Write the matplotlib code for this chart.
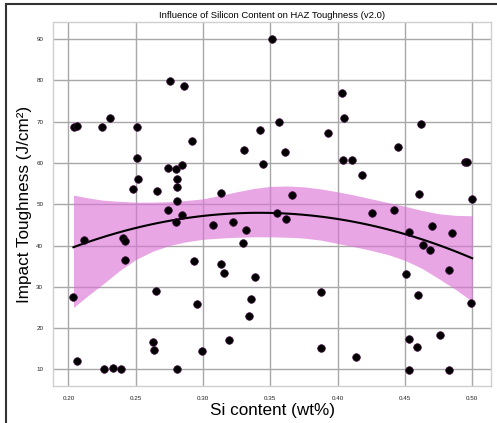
import numpy as np
import matplotlib
matplotlib.use("Agg")
import matplotlib.pyplot as plt
from matplotlib.patches import Rectangle

plt.rcParams['font.family'] = ['Liberation Sans', 'DejaVu Sans']

# scatter
si = [0.2042, 0.2067, 0.2248, 0.2305, 0.2508, 0.2508, 0.2515, 0.2476, 0.2656, 0.3516,
      0.2756, 0.2855, 0.3424, 0.2919, 0.3306, 0.3447, 0.2736, 0.2797, 0.2842, 0.2805,
      0.2805, 0.3132, 0.2805, 0.4029, 0.4046, 0.3566, 0.3927, 0.3610, 0.4038, 0.4110,
      0.4180, 0.3659, 0.4618, 0.4447, 0.4943, 0.4960, 0.4608, 0.5000, 0.2119, 0.2409,
      0.2418, 0.2418, 0.2037, 0.2649, 0.2627, 0.2637, 0.2067, 0.2265, 0.2334, 0.2389,
      0.2736, 0.2842, 0.2797, 0.3077, 0.3226, 0.3321, 0.3295, 0.2936, 0.3132, 0.3157,
      0.3387, 0.3358, 0.3343, 0.2954, 0.3192, 0.2991, 0.2805, 0.3553, 0.3618, 0.4254,
      0.3880, 0.3880, 0.4138, 0.4420, 0.4703, 0.4529, 0.4851, 0.4633, 0.4690, 0.4829,
      0.4509, 0.4596, 0.4990, 0.4759, 0.4527, 0.4591, 0.4529, 0.4829]
tough = [68.8, 69.0, 68.6, 70.8, 68.6, 61.2, 56.1, 53.6, 53.2, 90.0,
         79.7, 78.7, 68.0, 65.2, 63.2, 59.7, 58.8, 58.5, 59.6, 56.1,
         54.1, 52.7, 50.7, 76.8, 70.8, 69.9, 67.2, 62.6, 60.6, 60.8,
         57.1, 52.3, 69.5, 63.9, 60.1, 60.1, 52.5, 51.3, 41.4, 41.8,
         41.1, 36.4, 27.5, 29.1, 16.6, 14.8, 12.1, 10.0, 10.4, 10.0,
         48.5, 47.4, 45.8, 45.0, 45.8, 43.8, 40.6, 36.3, 35.6, 33.3,
         32.3, 27.1, 23.0, 25.9, 17.2, 14.4, 10.0, 47.8, 46.4, 47.8,
         28.7, 15.1, 13.1, 48.6, 44.7, 43.2, 43.1, 40.2, 38.8, 34.1,
         33.1, 28.1, 26.2, 18.3, 17.3, 15.4, 9.9, 9.9]

# confidence band edges
band_x = [0.2037, 0.215, 0.225, 0.2375, 0.25, 0.2625, 0.275, 0.2875, 0.30, 0.3125, 0.325,
          0.3375, 0.35, 0.3625, 0.375, 0.3875, 0.40, 0.4125, 0.425, 0.4375, 0.45,
          0.4625, 0.475, 0.4875, 0.50]
band_hi = [52.2, 51.5, 51.0, 50.7, 50.5, 50.5, 50.6, 50.9, 51.3, 52.1, 53.0,
           53.8, 54.3, 54.4, 54.2, 53.7, 53.0, 52.2, 51.3, 50.4, 49.5,
           48.5, 47.7, 47.3, 47.2]
band_lo = [25.0, 28.0, 30.5, 33.8, 36.6, 38.6, 40.0, 40.9, 41.5, 41.8, 42.0,
           42.1, 42.1, 42.0, 41.8, 41.3, 40.5, 39.7, 38.8, 37.8, 36.4,
           34.5, 32.0, 29.4, 26.5]

coef = np.polyfit(si, tough, 2)
xfit = np.linspace(min(si), max(si), 100)
yfit = np.polyval(coef, xfit)

fig = plt.figure(figsize=(4.97, 4.23), dpi=100)
ax = fig.add_axes([0.1066, 0.0875, 0.8814, 0.8605])

ax.fill_between(band_x, band_lo, band_hi, color='orchid', alpha=0.62, lw=0, zorder=1)
ax.plot(xfit, yfit, color='black', lw=1.5, zorder=3)
ax.scatter(si, tough, s=30, color='black', edgecolor='#3a0a3a', lw=0.5, zorder=4)

ax.set_xlim(0.1885, 0.514)
ax.set_ylim(6.0, 94.1)
ax.set_xticks([0.20, 0.25, 0.30, 0.35, 0.40, 0.45, 0.50])
ax.set_yticks([10, 20, 30, 40, 50, 60, 70, 80, 90])
ax.set_xticklabels(['0.20', '0.25', '0.30', '0.35', '0.40', '0.45', '0.50'])
ax.grid(True, color='#a8a8a8', lw=1.0)
ax.set_axisbelow(True)
ax.tick_params(length=0, labelsize=4.5, pad=7, colors='#222222')
for sp in ax.spines.values():
    sp.set_color('#cfcfcf')
    sp.set_linewidth(1.0)

ax.set_title('Influence of Silicon Content on HAZ Toughness (v2.0)', fontsize=6.8, pad=3)
ax.set_xlabel('Si content (wt%)', fontsize=12.3, labelpad=2)
ax.set_ylabel('Impact Toughness (J/cm²)', fontsize=12.3, labelpad=3)

# outer frame of the screenshot
fig.patches.append(Rectangle((6 / 497, -0.2), 1.3, 1.2 - 4 / 423, transform=fig.transFigure,
                             fill=False, edgecolor='#333333', lw=1.5))

fig.savefig('out.png', dpi=100)
